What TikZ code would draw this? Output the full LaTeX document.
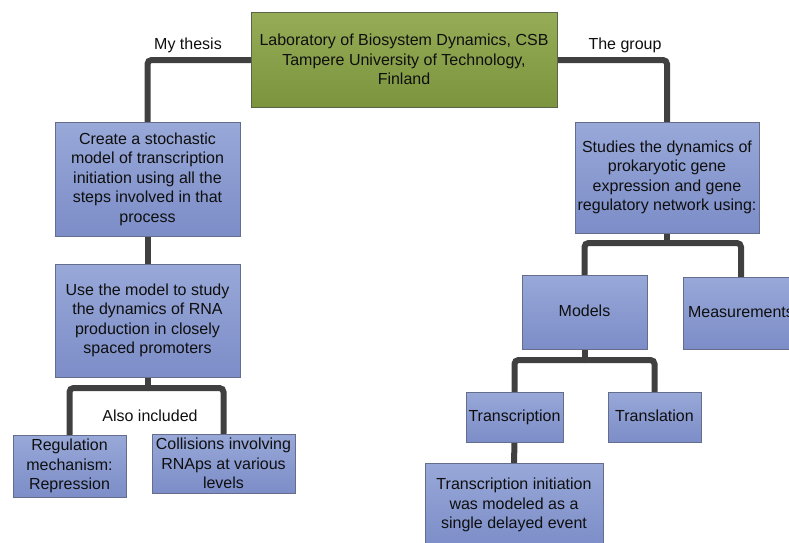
\documentclass[tikz,border=0pt]{standalone}
\usepackage{fontspec}
\setmainfont{Liberation Sans}
\usetikzlibrary{shadows,backgrounds}
\definecolor{bluetop}{RGB}{152,168,216}
\definecolor{bluebot}{RGB}{124,141,200}
\definecolor{blueedge}{RGB}{100,110,140}
\definecolor{greentop}{RGB}{150,172,86}
\definecolor{greenbot}{RGB}{124,148,62}
\definecolor{greenedge}{RGB}{90,100,70}
\definecolor{conn}{RGB}{64,64,64}
\definecolor{txt}{RGB}{15,15,15}
\tikzset{
  bbox/.style={draw=blueedge, line width=0.8pt, top color=bluetop, bottom color=bluebot,
    align=center, inner sep=2pt, text=txt, font=\fontsize{16}{19.5}\selectfont,
    drop shadow={shadow xshift=1.2pt, shadow yshift=-1.2pt, opacity=0.3}},
  gbox/.style={bbox, draw=greenedge, top color=greentop, bottom color=greenbot},
  onebox/.style={bbox, text height=11.5pt, text depth=3.5pt},
  link/.style={draw=conn, line width=6pt, line cap=round, rounded corners=4pt},
  lbl/.style={text=txt, font=\fontsize{16}{19.5}\selectfont}
}
\begin{document}
\begin{tikzpicture}[x=1pt,y=-1pt]
\useasboundingbox (0,0) rectangle (789,542);
\coordinate (bj) at (147.5,388);
\coordinate (ej) at (667,243);
\coordinate (mj) at (584.5,360);
\node[gbox, minimum width=306, minimum height=95] (top) at (404,59.5)
  {Laboratory of Biosystem Dynamics, CSB\\Tampere University of Technology,\\Finland};
\node[bbox, minimum width=185, minimum height=114] (A) at (147.5,179)
  {Create a stochastic\\model of transcription\\initiation using all the\\steps involved in that\\process};
\node[bbox, minimum width=185, minimum height=113] (B) at (147.5,320.5)
  {Use the model to study\\the dynamics of RNA\\production in closely\\spaced promoters};
\node[bbox, minimum width=113, minimum height=62] (C) at (69.5,466)
  {Regulation\\mechanism:\\Repression};
\node[bbox, minimum width=143, minimum height=59] (D) at (223.5,463.5)
  {Collisions involving\\RNAps at various\\levels};
\node[bbox, minimum width=184, minimum height=111] (E) at (667,177.5)
  {Studies the dynamics of\\prokaryotic gene\\expression and gene\\regulatory network using:};
\node[onebox, minimum width=125, minimum height=74] (M) at (584.5,312) {Models};
\node[onebox, minimum width=116, minimum height=72] (Ms) at (741,313) {Measurements};
\node[onebox, minimum width=97, minimum height=50] (T) at (514.5,417) {Transcription};
\node[onebox, minimum width=93, minimum height=50] (L) at (654.5,417) {Translation};
\node[bbox, minimum width=178, minimum height=84] (F) at (514,505)
  {Transcription initiation\\was modeled as a\\single delayed event};
\begin{scope}[on background layer]
\draw[link] (top.west |- 0,60) -| (A.north);
\draw[link] (top.east |- 0,60) -| (E.north);
\draw[link] (A.south) -- (B.north);
\draw[link] (B.south) -- (bj);
\draw[link] (bj) -| (C.north);
\draw[link] (bj) -| (D.north);
\draw[link] (E.south) -- (ej);
\draw[link] (ej) -| (M.north);
\draw[link] (ej) -| (Ms.north);
\draw[link] (M.south) -- (mj);
\draw[link] (mj) -| (T.north);
\draw[link] (mj) -| (L.north);
\draw[link] (T.south) -- (F.north);
\end{scope}
\node[lbl] (l1) at (188,45) {My thesis};
\node[lbl] (l2) at (625,45) {The group};
\node[lbl] (l3) at (150,416) {Also included};
\end{tikzpicture}
\end{document}
